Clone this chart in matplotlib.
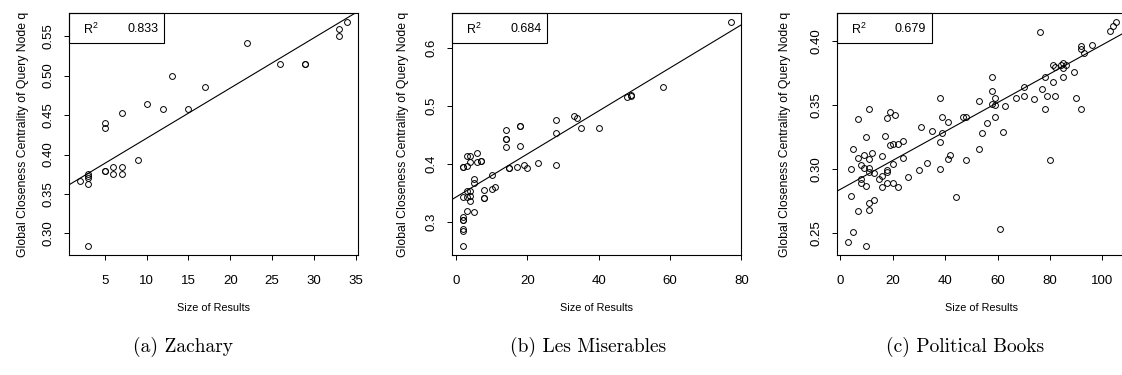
import matplotlib
matplotlib.use("Agg")
import matplotlib.pyplot as plt
from matplotlib.patches import Rectangle

plt.rcParams['font.family'] = ['Liberation Sans', 'DejaVu Sans']

# (a) Zachary
zach_x = [34, 33, 33, 22, 26, 29, 29, 13, 17, 10, 12, 15, 7, 5, 5, 9, 6, 7, 5, 5,
          6, 7, 3, 3, 3, 3, 2, 3]
zach_y = [0.568, 0.559, 0.550, 0.541, 0.515, 0.515, 0.515, 0.500, 0.485, 0.464,
          0.458, 0.458, 0.452, 0.440, 0.434, 0.393, 0.384, 0.384, 0.379, 0.379,
          0.375, 0.375, 0.375, 0.373, 0.370, 0.362, 0.367, 0.284]

# (b) Les Miserables
lesmis_x = [77, 58, 48, 49, 49, 33, 34, 28, 28, 35, 40, 28, 23, 20, 19, 17, 15, 15,
            18, 18, 18, 14, 14, 14, 14, 10, 10, 11, 8, 8, 8, 5, 5, 5, 6, 6, 7, 7,
            4, 4, 3, 3, 2, 2, 4, 4, 4, 3, 3, 2, 3, 2, 2, 2, 2, 2, 2]
lesmis_y = [0.644, 0.532, 0.514, 0.517, 0.518, 0.482, 0.478, 0.475, 0.453, 0.461,
            0.461, 0.397, 0.401, 0.392, 0.397, 0.394, 0.392, 0.392, 0.464, 0.464,
            0.430, 0.458, 0.443, 0.443, 0.428, 0.380, 0.357, 0.359, 0.355, 0.341,
            0.341, 0.374, 0.366, 0.316, 0.418, 0.402, 0.405, 0.405, 0.413, 0.402,
            0.413, 0.396, 0.394, 0.394, 0.352, 0.344, 0.335, 0.352, 0.343, 0.343,
            0.319, 0.308, 0.302, 0.302, 0.288, 0.284, 0.258]

# (c) Political Books
polbooks_x = [3, 5, 10, 4, 7, 11, 11, 13, 5, 7, 11, 10, 7, 4, 9, 12, 11, 8, 9, 11,
              11, 13, 8, 8, 10, 15, 16, 16, 17, 18, 19, 21, 19, 20, 22, 24, 18, 18,
              20, 18, 20, 16, 22, 24, 26, 30, 33, 31, 35, 38, 39, 39, 38, 38, 41,
              41, 42, 44, 47, 48, 48, 53, 53, 54, 56, 58, 58, 58, 59, 59, 59, 61,
              62, 63, 67, 70, 70, 74, 76, 77, 78, 78, 79, 80, 81, 81, 82, 82, 84,
              85, 85, 85, 86, 89, 90, 92, 92, 92, 93, 96, 103, 104, 105]
polbooks_y = [0.243, 0.251, 0.240, 0.279, 0.267, 0.268, 0.274, 0.276, 0.316, 0.339,
              0.347, 0.325, 0.309, 0.300, 0.311, 0.313, 0.308, 0.303, 0.301, 0.301,
              0.298, 0.297, 0.292, 0.289, 0.287, 0.292, 0.295, 0.310, 0.326, 0.340,
              0.345, 0.342, 0.319, 0.320, 0.320, 0.322, 0.299, 0.298, 0.304, 0.289,
              0.289, 0.286, 0.286, 0.309, 0.294, 0.299, 0.305, 0.333, 0.330, 0.356,
              0.341, 0.328, 0.321, 0.300, 0.337, 0.308, 0.311, 0.278, 0.341, 0.341,
              0.307, 0.353, 0.316, 0.328, 0.336, 0.372, 0.361, 0.351, 0.356, 0.350,
              0.341, 0.253, 0.329, 0.349, 0.356, 0.357, 0.364, 0.355, 0.407, 0.363,
              0.372, 0.347, 0.357, 0.307, 0.368, 0.381, 0.380, 0.357, 0.381, 0.383,
              0.379, 0.372, 0.381, 0.376, 0.356, 0.347, 0.396, 0.394, 0.391, 0.397,
              0.408, 0.412, 0.415]

# regression lines (intercept, slope) and R^2
fits = [(0.357, 0.00636), (0.3422, 0.00371), (0.2842, 0.00113)]
r2_values = ['0.833', '0.684', '0.679']

xticks = [[5, 10, 15, 20, 25, 30, 35], [0, 20, 40, 60, 80], [0, 20, 40, 60, 80, 100]]
yticks = [[0.30, 0.35, 0.40, 0.45, 0.50, 0.55], [0.3, 0.4, 0.5, 0.6],
          [0.25, 0.30, 0.35, 0.40]]
ytick_fmt = ['{:.2f}', '{:.1f}', '{:.2f}']
captions = ['(a) Zachary', '(b) Les Miserables', '(c) Political Books']

datasets = [(zach_x, zach_y), (lesmis_x, lesmis_y), (polbooks_x, polbooks_y)]

W, H = 1122, 375
fig = plt.figure(figsize=(W / 100, H / 100), dpi=100)

ax_left_px = [69, 452.3, 837.3]
ax_w_px, ax_top_px, ax_bot_px = 289, 13, 255
ax_h_px = ax_bot_px - ax_top_px
ylabel_off_px = [40, 43, 46]
caption_x_px = [183, 588, 965]

for i, (xs, ys) in enumerate(datasets):
    ax = fig.add_axes([ax_left_px[i] / W, (H - ax_bot_px) / H, ax_w_px / W, ax_h_px / H])
    ax.plot(xs, ys, linestyle='none', marker='o', ms=4.2, mfc='none', mec='black', mew=0.7)
    b, m = fits[i]
    ax.axline((0, b), slope=m, color='black', lw=0.8)

    # R-style 4% padding around data range
    xr = max(xs) - min(xs)
    yr = max(ys) - min(ys)
    ax.set_xlim(min(xs) - 0.04 * xr, max(xs) + 0.04 * xr)
    ax.set_ylim(min(ys) - 0.04 * yr, max(ys) + 0.04 * yr)

    ax.set_xticks(xticks[i])
    ax.set_xticklabels([str(t) for t in xticks[i]])
    ax.set_yticks(yticks[i])
    ax.set_yticklabels([ytick_fmt[i].format(t) for t in yticks[i]], rotation=90, va='center')
    ax.tick_params(direction='out', length=3.6, width=0.7, labelsize=9.5, colors='black')
    ax.tick_params(axis='x', pad=11)
    ax.tick_params(axis='y', pad=7)
    for s in ax.spines.values():
        s.set_linewidth(0.8)

    ax.set_xlabel('Size of Results', fontsize=7.8, labelpad=11)
    ax.set_ylabel('Global Closeness Centrality of Query Node q', fontsize=8.8)
    ax.yaxis.set_label_coords(-ylabel_off_px[i] / ax_w_px, 0.5)

    # R^2 box in the top-left corner
    bw, bh = 95 / ax_w_px, 30 / ax_h_px
    ax.add_patch(Rectangle((0, 1 - bh), bw, bh, transform=ax.transAxes, fill=False,
                           lw=0.8, ec='black', clip_on=False, zorder=5))
    ax.text(14 / ax_w_px, 1 - 16 / ax_h_px, r'$\mathregular{R^2}$', transform=ax.transAxes,
            ha='left', va='center', fontsize=9)
    ax.text(89 / ax_w_px, 1 - 16 / ax_h_px, r2_values[i], transform=ax.transAxes,
            ha='right', va='center', fontsize=9)

    fig.text(caption_x_px[i] / W, 1 - 347 / H, captions[i], family='cmr10',
             fontsize=14, ha='center', va='center')

fig.savefig('out.png', dpi=100)
